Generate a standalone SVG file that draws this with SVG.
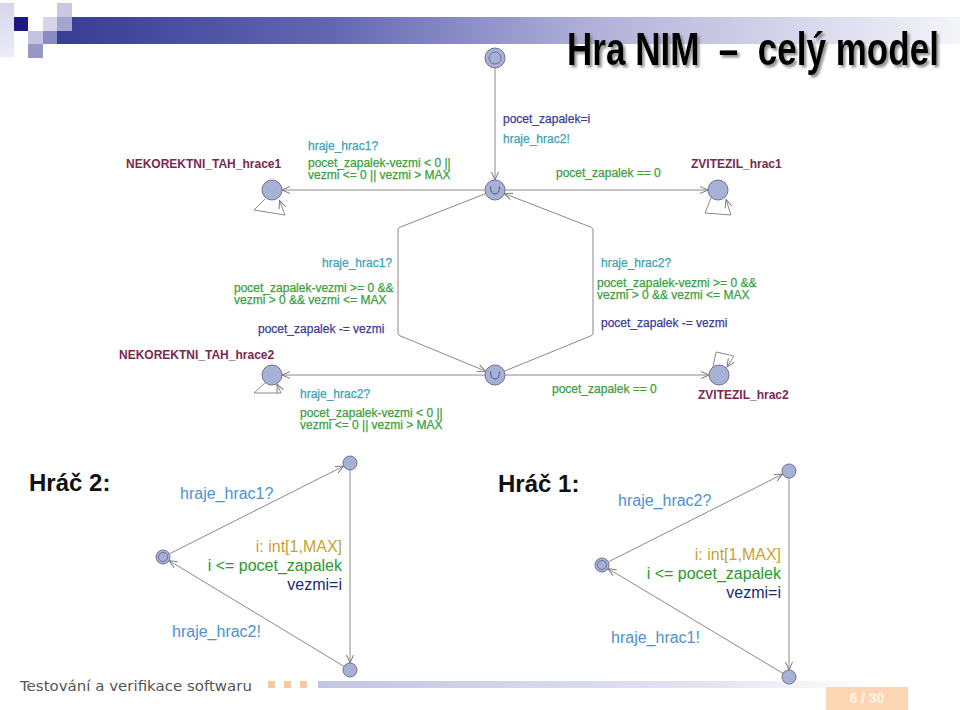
<svg xmlns="http://www.w3.org/2000/svg" width="960" height="710" viewBox="0 0 960 710">
<defs>
<linearGradient id="band" x1="0" y1="0" x2="1" y2="0">
<stop offset="0" stop-color="#383c94"/>
<stop offset="0.3" stop-color="#6266b2"/>
<stop offset="0.6" stop-color="#b2b2da"/>
<stop offset="1" stop-color="#f4f4fa"/>
</linearGradient>
<linearGradient id="fband" x1="0" y1="0" x2="1" y2="0">
<stop offset="0" stop-color="#c4c4e4"/>
<stop offset="0.7" stop-color="#e4e4f2"/>
<stop offset="1" stop-color="#ffffff"/>
</linearGradient>
<linearGradient id="lcol" x1="0" y1="0" x2="0" y2="1">
<stop offset="0" stop-color="#d6d6ea"/>
<stop offset="1" stop-color="#ececf6"/>
</linearGradient>
<filter id="shadow" x="-5%" y="-20%" width="115%" height="150%">
<feDropShadow dx="3" dy="2.5" stdDeviation="1.2" flood-color="#777" flood-opacity="0.8"/>
</filter>
<marker id="arr" markerUnits="userSpaceOnUse" markerWidth="12" markerHeight="12" viewBox="-10 -6 12 12" refX="0" refY="0" orient="auto">
<path d="M -8 -3.5 L 0 0 L -8 3.5" fill="none" stroke="#7a7a7a" stroke-width="1"/>
</marker>
</defs>
<style>
.node{fill:#a9b0d6;stroke:#6b7199;stroke-width:1}
.edge{fill:none;stroke:#8a8a8a;stroke-width:1;marker-end:url(#arr)}
.lbl{font-family:"Liberation Sans",Arial,sans-serif;font-size:12px;stroke-width:0.25}
.sync{fill:#3ea2b6;stroke:#3ea2b6}
.guard{fill:#3aa040;stroke:#3aa040}
.upd{fill:#3a3c98;stroke:#3a3c98}
.name{fill:#7a2850;font-weight:bold;font-family:"Liberation Sans",Arial,sans-serif;font-size:12px}
.bl{font-family:"Liberation Sans",Arial,sans-serif;font-size:16px}
.bsync{fill:#4a92d4}
.bsel{fill:#c9a233}
.bguard{fill:#2a9a2a}
.bupd{fill:#1c2a72}
.head{font-family:"Liberation Sans",Arial,sans-serif;font-size:24px;font-weight:bold;fill:#111}
.com{fill:none;stroke:#4e5480;stroke-width:1}
</style>

<!-- header decoration -->
<rect x="0" y="3" width="14" height="54" fill="url(#lcol)"/>
<rect x="14" y="17" width="14" height="14" fill="#1a1a80"/>
<rect x="28" y="31" width="15" height="13" fill="#c4c4e0"/>
<rect x="28" y="44" width="15" height="14" fill="#9898c8"/>
<rect x="43" y="17" width="14" height="14" fill="#d4d4ea"/>
<rect x="43" y="31" width="14" height="13" fill="#8a8ac4"/>
<rect x="57" y="3" width="15" height="14" fill="#c8c8e0"/>
<rect x="57" y="17" width="903" height="27" fill="url(#band)"/>
<rect x="57" y="17" width="15" height="14" fill="#a4a4d0"/>
<g transform="translate(567,65) scale(0.762,1)">
<text x="0" y="0" font-family="Liberation Sans,Arial,sans-serif" font-size="46" font-weight="bold" fill="#000" filter="url(#shadow)" xml:space="preserve">Hra NIM  –  celý model</text>
</g>

<!-- footer -->
<text x="20" y="691" font-family="DejaVu Sans,Verdana,sans-serif" font-size="14" fill="#555" textLength="232" lengthAdjust="spacingAndGlyphs">Testování a verifikace softwaru</text>
<rect x="268" y="681" width="7" height="7" fill="#f6c9a2"/>
<rect x="284" y="681" width="7" height="7" fill="#f6c9a2"/>
<rect x="300" y="681" width="7" height="7" fill="#f6c9a2"/>
<rect x="318" y="681" width="560" height="7" fill="url(#fband)"/>
<rect x="826" y="687" width="82" height="23" fill="#fcd6b4"/>
<text x="867" y="703" text-anchor="middle" font-family="Liberation Sans,Arial,sans-serif" font-size="14" font-weight="bold" fill="#fff4ea">6 / 30</text>

<!-- connectors -->
<g id="connectors">
<line class="edge" x1="495" y1="68" x2="495" y2="180"/>
<line class="edge" x1="485" y1="190" x2="282" y2="190"/>
<line class="edge" x1="505" y1="190" x2="708" y2="190"/>
<path class="edge" d="M 485.7 193.6 L 400 227.2 Q 398 228 398 230 L 398 333 Q 398 335 400 335.8 L 485.7 371.2"/>
<path class="edge" d="M 504.3 371.2 L 591 335.8 Q 593 335 593 333 L 593 230 Q 593 228 591 227.2 L 504.3 193.6"/>
<line class="edge" x1="485" y1="375" x2="282" y2="375"/>
<line class="edge" x1="505" y1="375" x2="709" y2="375"/>
<path class="edge" d="M 265 199 L 254 210 L 285 215 L 279.5 200.5"/>
<path class="edge" d="M 711 198 L 705 213 L 731 215 L 726 199.5"/>
<path class="edge" d="M 265 383 L 254 393 L 281 393 L 277 384"/>
<path class="edge" d="M 713 367 L 716 352 L 734 356 L 727 367"/>

<line class="edge" x1="169.3" y1="553.9" x2="343.7" y2="466.1"/>
<line class="edge" x1="350" y1="470" x2="350" y2="663"/>
<line class="edge" x1="344" y1="666.4" x2="169" y2="560.6"/>

<line class="edge" x1="608.3" y1="561.9" x2="782.7" y2="474.1"/>
<line class="edge" x1="789" y1="478" x2="789" y2="670"/>
<line class="edge" x1="783" y1="673.4" x2="608" y2="568.6"/>
</g>

<!-- top model nodes -->
<g id="init">
<circle class="node" cx="495" cy="58" r="10"/>
<circle class="node" cx="495" cy="58" r="6"/>
</g>
<g id="center1">
<circle class="node" cx="495" cy="190" r="10"/>
<path class="com" d="M 490.5 186.5 Q 490.5 194 495 194 Q 499.5 194 499.5 186.5"/>
</g>
<g id="center2">
<circle class="node" cx="495" cy="375" r="10"/>
<path class="com" d="M 490.5 371.5 Q 490.5 379 495 379 Q 499.5 379 499.5 371.5"/>
</g>
<g id="nek1">
<circle class="node" cx="272" cy="190" r="10"/>
<text class="name" x="126" y="168">NEKOREKTNI_TAH_hrace1</text>
</g>
<g id="zv1">
<circle class="node" cx="718" cy="190" r="10"/>
<text class="name" x="691" y="168">ZVITEZIL_hrac1</text>
</g>
<g id="nek2">
<circle class="node" cx="272" cy="375" r="10"/>
<text class="name" x="119" y="359">NEKOREKTNI_TAH_hrace2</text>
</g>
<g id="zv2">
<circle class="node" cx="719" cy="375" r="10"/>
<text class="name" x="698" y="399">ZVITEZIL_hrac2</text>
</g>

<!-- top model labels -->
<g id="labels">
<text class="lbl upd" x="503" y="123">pocet_zapalek=i</text>
<text class="lbl sync" x="503" y="143">hraje_hrac2!</text>
<text class="lbl sync" x="308" y="150">hraje_hrac1?</text>
<text class="lbl guard" x="308" y="167">pocet_zapalek-vezmi &lt; 0 ||</text>
<text class="lbl guard" x="308" y="179">vezmi &lt;= 0 || vezmi &gt; MAX</text>
<text class="lbl guard" x="556" y="177">pocet_zapalek == 0</text>

<text class="lbl sync" x="322" y="267">hraje_hrac1?</text>
<text class="lbl guard" x="234" y="292">pocet_zapalek-vezmi &gt;= 0 &amp;&amp;</text>
<text class="lbl guard" x="234" y="304">vezmi &gt; 0 &amp;&amp; vezmi &lt;= MAX</text>
<text class="lbl upd" x="258" y="333">pocet_zapalek -= vezmi</text>

<text class="lbl sync" x="601" y="267">hraje_hrac2?</text>
<text class="lbl guard" x="597" y="287">pocet_zapalek-vezmi &gt;= 0 &amp;&amp;</text>
<text class="lbl guard" x="597" y="299">vezmi &gt; 0 &amp;&amp; vezmi &lt;= MAX</text>
<text class="lbl upd" x="601" y="327">pocet_zapalek -= vezmi</text>

<text class="lbl sync" x="300" y="398">hraje_hrac2?</text>
<text class="lbl guard" x="300" y="417">pocet_zapalek-vezmi &lt; 0 ||</text>
<text class="lbl guard" x="300" y="429">vezmi &lt;= 0 || vezmi &gt; MAX</text>
<text class="lbl guard" x="552" y="393">pocet_zapalek == 0</text>
</g>

<!-- Player 2 -->
<text class="head" x="29" y="491">Hráč 2:</text>
<g id="p2_left">
<circle class="node" cx="163" cy="557" r="7"/>
<circle class="node" cx="163" cy="557" r="4.5"/>
</g>
<g id="p2_top"><circle class="node" cx="350" cy="463" r="7"/></g>
<g id="p2_bottom"><circle class="node" cx="350" cy="670" r="7"/></g>
<text class="bl bsync" x="180" y="499">hraje_hrac1?</text>
<text class="bl bsel" x="342" y="552" text-anchor="end">i: int[1,MAX]</text>
<text class="bl bguard" x="342" y="571" text-anchor="end">i &lt;= pocet_zapalek</text>
<text class="bl bupd" x="342" y="590" text-anchor="end">vezmi=i</text>
<text class="bl bsync" x="172" y="637">hraje_hrac2!</text>

<!-- Player 1 -->
<text class="head" x="498" y="492">Hráč 1:</text>
<g id="p1_left">
<circle class="node" cx="602" cy="565" r="7"/>
<circle class="node" cx="602" cy="565" r="4.5"/>
</g>
<g id="p1_top"><circle class="node" cx="789" cy="471" r="7"/></g>
<g id="p1_bottom"><circle class="node" cx="789" cy="677" r="7"/></g>
<text class="bl bsync" x="618" y="506">hraje_hrac2?</text>
<text class="bl bsel" x="781" y="560" text-anchor="end">i: int[1,MAX]</text>
<text class="bl bguard" x="781" y="579" text-anchor="end">i &lt;= pocet_zapalek</text>
<text class="bl bupd" x="781" y="598" text-anchor="end">vezmi=i</text>
<text class="bl bsync" x="611" y="643">hraje_hrac1!</text>
</svg>
